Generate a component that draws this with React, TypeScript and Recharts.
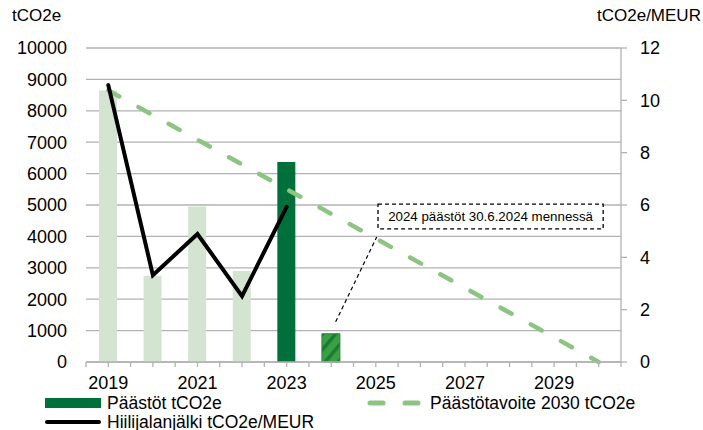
import {
  Bar,
  CartesianGrid,
  Cell,
  ComposedChart,
  Line,
  ReferenceArea,
  ReferenceLine,
  XAxis,
  YAxis,
} from "recharts";

// Values.
const years = [2019, 2020, 2021, 2022, 2023, 2024, 2025, 2026, 2027, 2028, 2029, 2030];
const emissions = [8650, 2750, 4950, 2900, 6370, 900, null, null, null, null, null, null];
const intensity = [10.58, 3.32, 4.89, 2.52, 5.93, null, null, null, null, null, null, null];
const target = [8650, null, null, null, null, null, null, null, null, null, null, 0];
const xLabelYears = [2019, 2021, 2023, 2025, 2027, 2029];
const leftTicks = [0, 1000, 2000, 3000, 4000, 5000, 6000, 7000, 8000, 9000, 10000];
const rightTicks = [0, 2, 4, 6, 8, 10, 12];
const noteText = "2024 päästöt 30.6.2024 mennessä";

const data = years.map((year, i) => ({
  year,
  emissions: emissions[i],
  intensity: intensity[i],
  target: target[i],
}));

// minor ticks at every half year, labels on odd years only
const xTicks = [...years.flatMap((y) => [y - 0.5, y]), years[years.length - 1] + 0.5];

const FONT = '"Liberation Sans", Arial, sans-serif';
const LIGHT = "#d3e5d0";
const DARK = "#00703b";
const TARGET = "#8cc482";
const GRID = "#b2b2b2";

function barFill(year: number): string {
  if (year === 2024) return "url(#hatch2024)";
  if (year === 2023) return DARK;
  return LIGHT;
}

function NoteLabel({ viewBox }: { viewBox?: { x: number; y: number; width: number; height: number } }) {
  if (!viewBox) return null;
  return (
    <text
      x={viewBox.x + viewBox.width / 2}
      y={viewBox.y + viewBox.height / 2}
      textAnchor="middle"
      dominantBaseline="central"
      fontFamily={FONT}
      fontSize={13.3}
      fill="#000"
    >
      {noteText}
    </text>
  );
}

function LegendRow({ icon, text, left, top }: { icon: React.ReactNode; text: string; left: number; top: number }) {
  return (
    <div style={{ position: "absolute", left, top, height: 18, display: "flex", alignItems: "center" }}>
      <svg width={58} height={18} style={{ display: "block" }}>
        {icon}
      </svg>
      <span style={{ fontFamily: FONT, fontSize: 17.5, color: "#000", marginLeft: 6, whiteSpace: "nowrap" }}>
        {text}
      </span>
    </div>
  );
}

export default function App() {
  return (
    <div style={{ position: "absolute", left: 0, top: 0, width: 703, height: 430, background: "#fff" }}>
      <ComposedChart
        width={703}
        height={430}
        data={data}
        margin={{ top: 48, right: 0, left: 0, bottom: 0 }}
      >
        <defs>
          <pattern
            id="hatch2024"
            width={10}
            height={10}
            patternUnits="userSpaceOnUse"
            patternTransform="rotate(40)"
          >
            <rect width={10} height={10} fill="#3aa047" />
            <rect width={3.5} height={10} fill="#1e7a31" />
          </pattern>
        </defs>
        <CartesianGrid yAxisId="left" vertical={false} stroke={GRID} strokeWidth={1.3} />
        <XAxis
          dataKey="year"
          type="number"
          domain={[years[0] - 0.5, years[years.length - 1] + 0.5]}
          ticks={xTicks}
          interval={0}
          tickFormatter={(v: number) => (xLabelYears.includes(v) ? String(v) : "")}
          height={68}
          tick={{ fontSize: 18, fill: "#000", fontFamily: FONT }}
          tickSize={5}
          tickMargin={9}
          tickLine={{ stroke: GRID, strokeWidth: 1.3 }}
          axisLine={{ stroke: GRID, strokeWidth: 1.3 }}
        />
        <YAxis
          yAxisId="left"
          domain={[0, 10000]}
          ticks={leftTicks}
          interval={0}
          width={86}
          tick={{ fontSize: 18, fill: "#000", fontFamily: FONT }}
          tickSize={0}
          tickMargin={19}
          tickLine={false}
          axisLine={false}
        />
        <YAxis
          yAxisId="right"
          orientation="right"
          domain={[0, 12]}
          ticks={rightTicks}
          interval={0}
          width={82}
          tick={{ fontSize: 18, fill: "#000", fontFamily: FONT, textAnchor: "start" }}
          tickSize={6}
          tickMargin={13}
          tickLine={{ stroke: GRID, strokeWidth: 1.3 }}
          axisLine={{ stroke: GRID, strokeWidth: 1.3 }}
        />
        <Bar yAxisId="left" dataKey="emissions" barSize={18} isAnimationActive={false}>
          {data.map((d) => (
            <Cell
              key={d.year}
              fill={barFill(d.year)}
              stroke={d.year === 2024 ? "#2a8a3a" : "none"}
              strokeWidth={1}
            />
          ))}
        </Bar>
        <Line
          yAxisId="left"
          dataKey="target"
          type="linear"
          stroke={TARGET}
          strokeWidth={4.5}
          strokeDasharray="12.5 22"
          strokeLinecap="round"
          dot={false}
          activeDot={false}
          connectNulls
          isAnimationActive={false}
        />
        <Line
          yAxisId="right"
          dataKey="intensity"
          type="linear"
          stroke="#000"
          strokeWidth={4}
          strokeLinecap="round"
          dot={false}
          activeDot={false}
          isAnimationActive={false}
        />
        <ReferenceLine
          yAxisId="left"
          segment={[
            { x: 2024.1, y: 1280 },
            { x: 2025.02, y: 3980 },
          ]}
          stroke="#000"
          strokeWidth={1.2}
          strokeDasharray="4 3"
        />
        <ReferenceArea
          yAxisId="left"
          x1={2025.05}
          x2={2030.1}
          y1={4240}
          y2={5030}
          fill="#fff"
          fillOpacity={1}
          stroke="#000"
          strokeWidth={1.3}
          strokeDasharray="4 3"
          label={<NoteLabel />}
        />
      </ComposedChart>

      <div style={{ position: "absolute", left: 12, top: 6, fontFamily: FONT, fontSize: 17, color: "#000" }}>
        tCO2e
      </div>
      <div style={{ position: "absolute", left: 597, top: 6, fontFamily: FONT, fontSize: 17, color: "#000" }}>
        tCO2e/MEUR
      </div>

      <LegendRow
        left={43}
        top={394}
        text="Päästöt tCO2e"
        icon={<rect x={2} y={4} width={56} height={10} fill={DARK} />}
      />
      <LegendRow
        left={366}
        top={394}
        text="Päästötavoite 2030 tCO2e"
        icon={
          <line
            x1={4}
            y1={9}
            x2={56}
            y2={9}
            stroke={TARGET}
            strokeWidth={5}
            strokeLinecap="round"
            strokeDasharray="13 22"
          />
        }
      />
      <LegendRow
        left={43}
        top={413}
        text="Hiilijalanjälki tCO2e/MEUR"
        icon={<line x1={4} y1={9} x2={56} y2={9} stroke="#000" strokeWidth={4} strokeLinecap="round" />}
      />
    </div>
  );
}
